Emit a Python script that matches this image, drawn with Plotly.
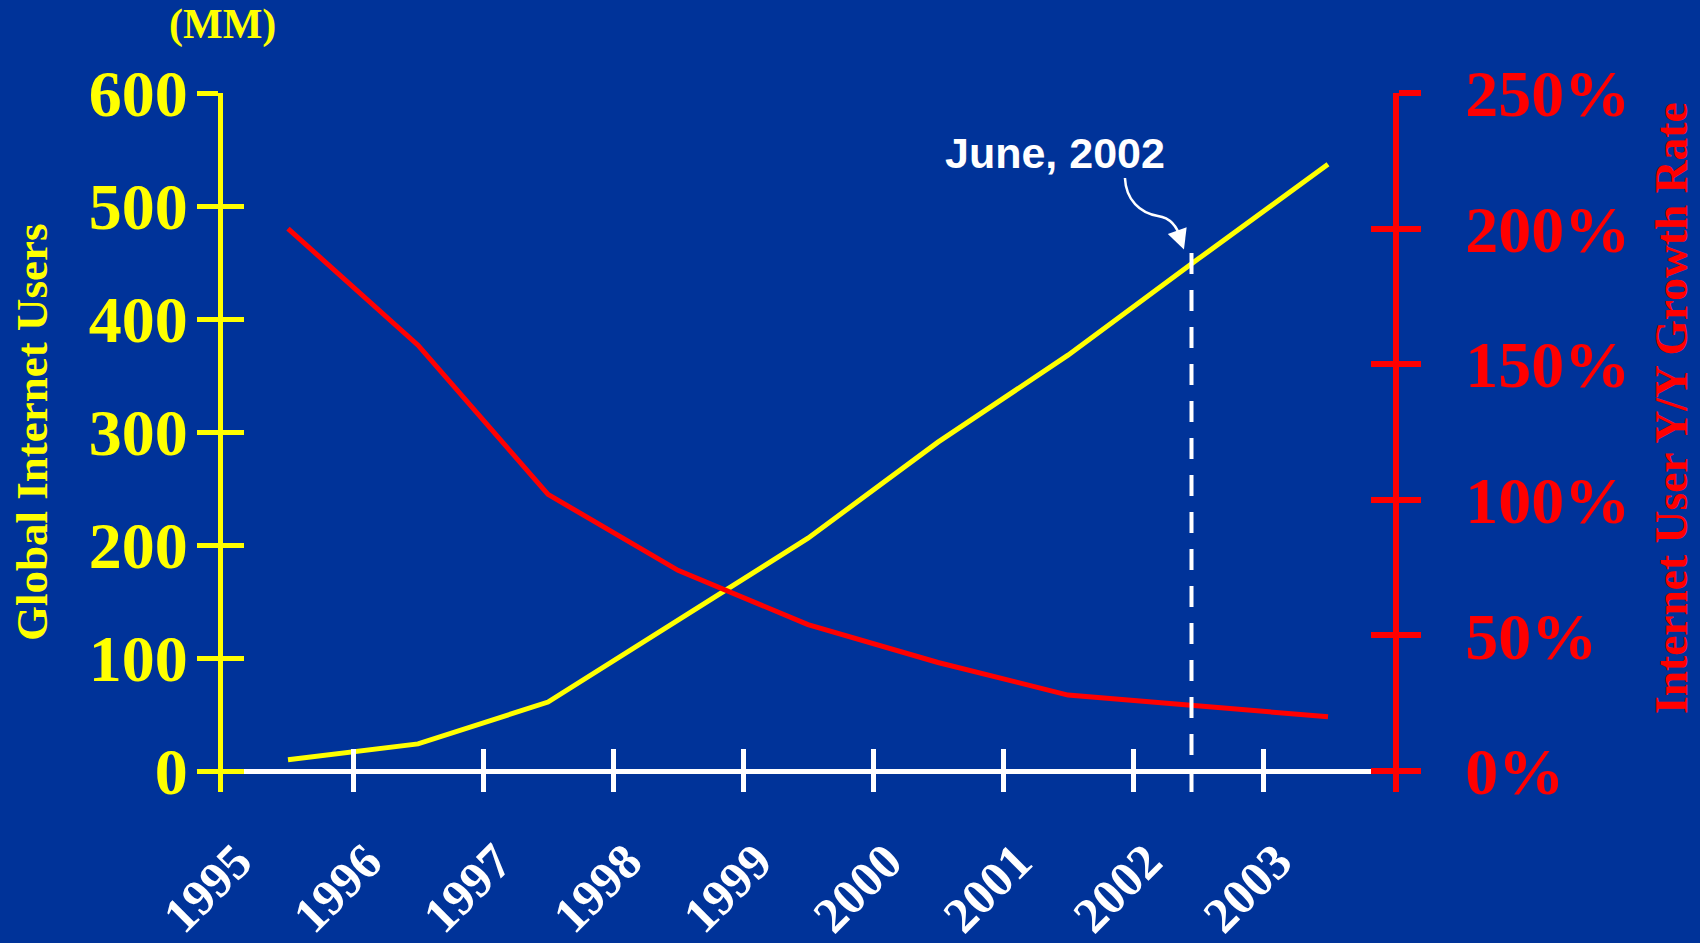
import plotly.graph_objects as go

# ---- data ----
years = [1995, 1996, 1997, 1998, 1999, 2000, 2001, 2002, 2003]
year_labels = ["1995", "1996", "1997", "1998", "1999", "2000", "2001", "2002", "2003"]
mid_year = [1995.5, 1996.5, 1997.5, 1998.5, 1999.5, 2000.5, 2001.5, 2002.5, 2003.5]
users_mm = [10, 24, 61, 134, 206, 291, 368, 453, 537]
growth_pct = [200, 157, 102, 74, 54, 40, 28, 24, 20]
users_ticks = [0, 100, 200, 300, 400, 500, 600]
growth_ticks = [0, 50, 100, 150, 200, 250]
growth_labels = ["0%", "50%", "100%", "150%", "200%", "250%"]
marker_year = 2002.45  # June 2002

BG = "#003399"
YEL = "#FFFF00"
RED = "#FF0000"
WHITE = "#FFFFFF"
SERIF = "Liberation Serif, Times New Roman, serif"
SANS = "Liberation Sans, Arial, sans-serif"

# plot area geometry
L, R, T, B = 223, 1393, 93, 792
W, H = 1700, 943
plot_h = B - T
below = 21  # px below zero line
f = below / (plot_h - below)

fig = go.Figure()
fig.add_trace(go.Scatter(x=mid_year, y=users_mm, mode="lines", xaxis="x", yaxis="y",
                         line=dict(color=YEL, width=5), hoverinfo="skip", showlegend=False))
fig.add_trace(go.Scatter(x=mid_year, y=growth_pct, mode="lines", xaxis="x", yaxis="y2",
                         line=dict(color=RED, width=5), hoverinfo="skip", showlegend=False))
# invisible helpers so overlay axes render
fig.add_trace(go.Scatter(x=mid_year, y=users_mm, mode="lines", xaxis="x2", yaxis="y3",
                         line=dict(color=YEL, width=0), opacity=0, hoverinfo="skip", showlegend=False))
fig.add_trace(go.Scatter(x=mid_year, y=growth_pct, mode="lines", xaxis="x", yaxis="y4",
                         line=dict(color=RED, width=0), opacity=0, hoverinfo="skip", showlegend=False))

xr = [years[0], years[-1] + 1]
yr = [-users_ticks[-1] * f, users_ticks[-1]]
y2r = [-growth_ticks[-1] * f, growth_ticks[-1]]

fig.update_layout(
    width=W, height=H,
    margin=dict(l=L, r=W - R, t=T, b=H - B),
    paper_bgcolor=BG, plot_bgcolor=BG,
    showlegend=False,
    xaxis=dict(range=xr, tickmode="array", tickvals=years, ticktext=year_labels,
               tickangle=-45, ticks="", showline=False, showgrid=False, zeroline=False,
               tickfont=dict(family=SERIF, size=50, color=WHITE, weight="bold"),
               ticklabelstandoff=29, ticklabelshift=14, automargin=False),
    xaxis2=dict(overlaying="x", anchor="y", range=xr, tickmode="array", tickvals=years[1:],
                ticks="inside", ticklen=2 * below + 1, tickwidth=5, tickcolor=WHITE,
                showticklabels=False, showline=False, showgrid=False, zeroline=False, automargin=False),
    yaxis=dict(range=yr, tickmode="array", tickvals=users_ticks, ticks="outside", ticklen=21,
               tickwidth=5, tickcolor=YEL, showline=True, linecolor=YEL, linewidth=5,
               showgrid=False, zeroline=True, zerolinecolor=WHITE, zerolinewidth=5,
               tickfont=dict(family=SERIF, size=66, color=YEL, weight="bold"),
               ticklabelstandoff=-4, automargin=False),
    yaxis3=dict(overlaying="y", side="left", anchor="x", range=yr, tickmode="array", tickvals=users_ticks,
                ticks="inside", ticklen=21, tickwidth=5, tickcolor=YEL, showticklabels=False,
                showline=False, showgrid=False, zeroline=False, automargin=False),
    yaxis2=dict(overlaying="y", side="right", anchor="x", range=y2r, tickmode="array",
                tickvals=growth_ticks, ticktext=growth_labels, ticks="outside", ticklen=22, tickwidth=6,
                tickcolor=RED, showline=True, linecolor=RED, linewidth=6, showgrid=False,
                zeroline=False, tickfont=dict(family=SERIF, size=66, color=RED, weight="bold"),
                ticklabelstandoff=31, automargin=False),
    yaxis4=dict(overlaying="y", side="right", anchor="x", range=y2r, tickmode="array",
                tickvals=growth_ticks, ticks="inside", ticklen=22, tickwidth=6, tickcolor=RED,
                showticklabels=False, showline=False, showgrid=False, zeroline=False, automargin=False),
)

# dashed June 2002 marker
fig.add_shape(type="line", xref="x", yref="y", x0=marker_year, x1=marker_year,
              y0=yr[0], y1=459, line=dict(color=WHITE, width=4, dash="21px,16px"))

# curved callout arrow
path = ("M 2001.938,524.8 C 2001.946,505.3 2002.054,493.8 2002.192,491.2 "
        "C 2002.300,489.4 2002.346,480.5 2002.369,469.9")
fig.add_shape(type="path", xref="x", yref="y", path=path, line=dict(color=WHITE, width=2.5))
fig.add_annotation(x=2002.392, y=461.5, xref="x", yref="y", ax=-5, ay=-14, text="",
                   showarrow=True, arrowhead=2, arrowsize=1.6, arrowwidth=2.5, arrowcolor=WHITE)
fig.add_annotation(x=2001.4, y=547, xref="x", yref="y", text="June, 2002", showarrow=False,
                   xanchor="center", yanchor="middle",
                   font=dict(family=SANS, size=43, color=WHITE, weight="bold"))

# titles
fig.add_annotation(x=(32 - L) / (R - L), y=(B - 433) / plot_h, xref="paper", yref="paper",
                   xanchor="center", yanchor="middle",
                   text="Global Internet Users", textangle=-90, showarrow=False,
                   font=dict(family=SERIF, size=45, color=YEL, weight="bold"))
fig.add_annotation(x=(1671 - L) / (R - L), y=(B - 408) / plot_h, xref="paper", yref="paper",
                   xanchor="center", yanchor="middle",
                   text="Internet User Y/Y Growth Rate", textangle=-90, showarrow=False,
                   font=dict(family=SERIF, size=45.5, color=RED, weight="bold"))
fig.add_annotation(x=(222 - L) / (R - L), y=(B - 24) / plot_h, xref="paper", yref="paper",
                   xanchor="center", yanchor="middle",
                   text="(MM)", showarrow=False,
                   font=dict(family=SERIF, size=42, color=YEL, weight="bold"))

fig.write_html("out.html")
